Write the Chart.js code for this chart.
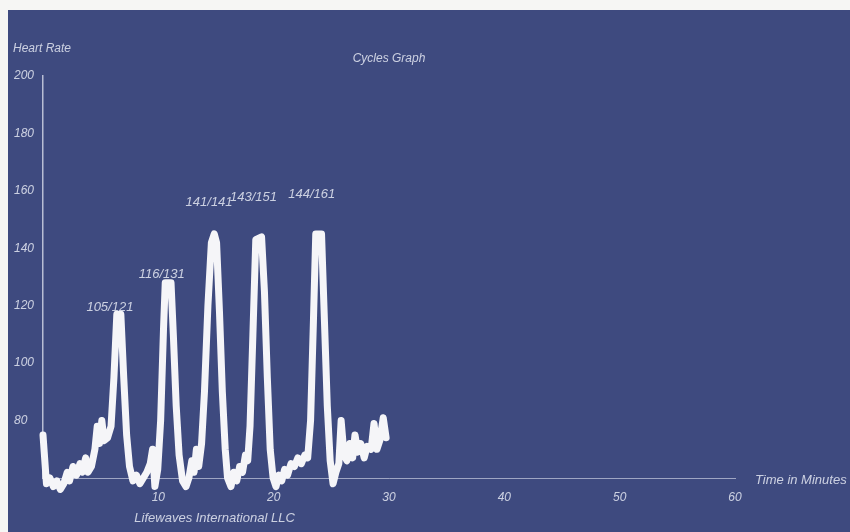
<!DOCTYPE html>
<html>
<head>
<meta charset="utf-8">
<script src="https://cdn.jsdelivr.net/npm/chart.js@4/dist/chart.umd.min.js"></script>
<style>
  body { margin: 0; background: #f6f6f4; }
  #wrap { position: absolute; left: 8px; top: 10px; width: 842px; height: 522px; background: rgb(62,74,127); }
</style>
</head>
<body>
<div id="wrap"><canvas id="cycles"></canvas></div>
<script>
// heart rate trace (minutes / bpm)
const minutes = [
  0.0, 0.3, 0.6, 0.9, 1.2, 1.5, 1.8, 2.1, 2.3, 2.6, 2.9, 3.2, 3.4, 3.7, 3.9, 4.2, 4.5, 4.7, 4.9, 5.1,
  5.3, 5.6, 5.9, 6.15, 6.4, 6.75, 7.0, 7.25, 7.5, 7.8, 8.1, 8.4, 8.7, 9.0, 9.3, 9.5, 9.7, 9.95, 10.2, 10.45,
  10.6, 11.1, 11.3, 11.55, 11.8, 12.1, 12.4, 12.65, 12.9, 13.1, 13.3, 13.5, 13.75, 14.0, 14.3, 14.6, 14.85, 15.05, 15.3, 15.55,
  15.8, 16.0, 16.3, 16.55, 16.8, 17.05, 17.3, 17.55, 17.75, 17.95, 18.2, 18.45, 18.95, 19.2, 19.45, 19.7, 19.95, 20.2, 20.45, 20.7,
  20.95, 21.2, 21.5, 21.8, 22.1, 22.4, 22.7, 22.95, 23.2, 23.45, 23.65, 24.15, 24.4, 24.65, 24.9, 25.15, 25.4, 25.65, 25.85, 26.1,
  26.35, 26.6, 26.85, 27.05, 27.3, 27.55, 27.85, 28.1, 28.45, 28.7, 28.95, 29.2, 29.5, 29.75
];
const heartRate = [
  75, 58, 60, 57, 59, 56, 58, 62, 59, 64, 61, 65, 62, 67, 62, 64, 70, 78, 72, 80,
  73, 74, 78, 95, 117, 117, 95, 75, 64, 59, 61, 58, 60, 62, 65, 70, 57, 63, 80, 112,
  128, 128, 110, 85, 68, 59, 57, 60, 66, 62, 70, 64, 72, 90, 120, 142, 145, 142, 118, 90,
  70, 60, 57, 62, 59, 64, 62, 68, 66, 78, 110, 143, 144, 125, 95, 70, 60, 57, 61, 59,
  63, 61, 65, 64, 67, 65, 68, 67, 80, 115, 145, 145, 115, 85, 66, 58, 62, 65, 80, 68,
  66, 72, 67, 75, 69, 72, 67, 71, 70, 79, 70, 73, 81, 74
];

// peak annotations
const peakLabels = ['105/121', '116/131', '141/141', '143/151', '144/161'];
const peakMinute = [5.8, 10.3, 14.4, 18.25, 23.3];
const peakBpm = [119.5, 131, 156, 157.6, 158.7];

const yTicks = [60, 80, 100, 120, 140, 160, 180, 200];
const xTicks = [0, 10, 20, 30, 40, 50, 60];

const ink = 'rgba(228,231,242,0.85)';
const font = { family: 'Liberation Sans', size: 12, style: 'italic' };

const textPlugin = {
  id: 'texts',
  afterDraw(chart) {
    const { ctx, chartArea, scales } = chart;
    const x = scales.x, y = scales.y;
    ctx.save();
    ctx.fillStyle = ink;
    ctx.textBaseline = 'middle';
    ctx.font = 'italic 13px "Liberation Sans"';
    ctx.textAlign = 'center';
    peakLabels.forEach((t, i) => {
      ctx.fillText(t, x.getPixelForValue(peakMinute[i]), y.getPixelForValue(peakBpm[i]));
    });
    ctx.font = 'italic 12px "Liberation Sans"';
    ctx.fillText('Cycles Graph', (chartArea.left + chartArea.right) / 2, chartArea.top - 17);
    const mid = (minutes[0] + minutes[minutes.length - 1]) / 2;
    ctx.font = 'italic 13px "Liberation Sans"';
    ctx.fillText('Lifewaves International LLC', x.getPixelForValue(mid), chartArea.bottom + 40);
    ctx.textAlign = 'left';
    ctx.font = 'italic 12px "Liberation Sans"';
    ctx.fillText('Heart Rate', 5, chartArea.top - 27);
    ctx.font = 'italic 13px "Liberation Sans"';
    ctx.fillText('Time in Minutes', chartArea.right + 20, chartArea.bottom + 2);
    ctx.restore();
  }
};

const ctx = document.getElementById('cycles').getContext('2d');
new Chart(ctx, {
  type: 'line',
  data: {
    datasets: [{
      data: minutes.map((m, i) => ({ x: m, y: heartRate[i] })),
      borderColor: '#f5f5f8',
      borderWidth: 7,
      borderJoinStyle: 'round',
      borderCapStyle: 'round',
      pointRadius: 0,
      tension: 0,
      clip: false
    }]
  },
  options: {
    responsive: true,
    maintainAspectRatio: false,
    animation: false,
    layout: { padding: { left: 6, right: 115, top: 66, bottom: 0 } },
    plugins: { legend: { display: false }, tooltip: { enabled: false } },
    scales: {
      x: {
        type: 'linear',
        min: 0,
        max: 60,
        afterBuildTicks: s => { s.ticks = xTicks.map(v => ({ value: v })); },
        afterFit: s => { s.height = 54; },
        grid: { display: false, drawTicks: false },
        border: { display: true, color: 'rgba(225,228,240,0.6)', width: 1, dash: [1, 3] },
        ticks: {
          color: ink,
          font: font,
          padding: 12,
          maxRotation: 0,
          callback: v => (v === 0 ? '' : v)
        }
      },
      y: {
        min: 60,
        max: 200,
        afterBuildTicks: s => { s.ticks = yTicks.map(v => ({ value: v })); },
        afterFit: s => { s.width = 29; },
        grid: { display: false, drawTicks: false },
        border: { display: true, color: 'rgba(225,228,240,0.75)', width: 1.5 },
        ticks: {
          color: ink,
          font: font,
          crossAlign: 'far',
          padding: 6,
          callback: v => (v === 60 ? '' : v)
        }
      }
    }
  },
  plugins: [textPlugin]
});
</script>
</body>
</html>
